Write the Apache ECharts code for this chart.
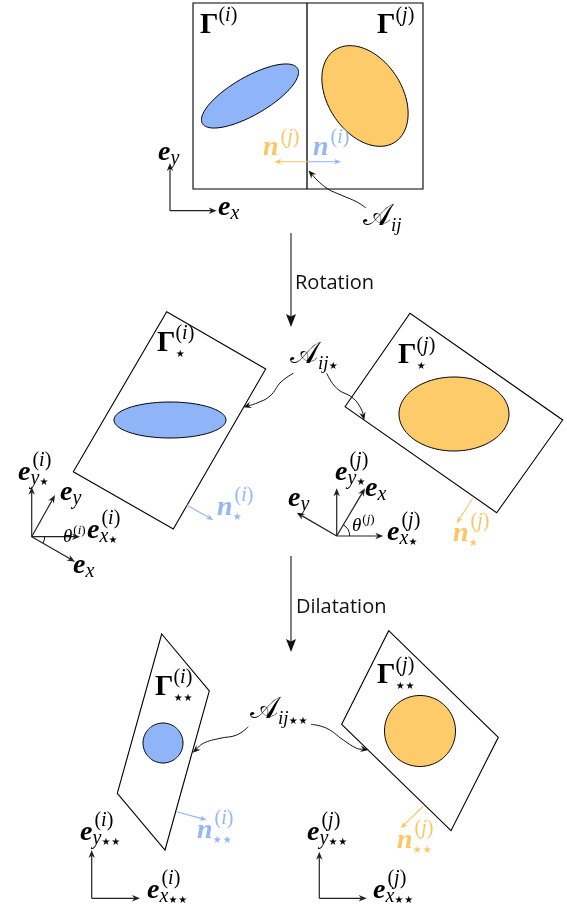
<!DOCTYPE html>
<html><head><meta charset="utf-8">
<script src="https://cdn.jsdelivr.net/npm/echarts@6/dist/echarts.min.js"></script>
<style>html,body{margin:0;padding:0;background:#fff}#c{width:567px;height:911px}</style>
</head><body><div id="c"></div>
<script>
// ---------- diagram data (coordinates in the 567 x 911 frame, y downward) ----------
const boxTop  = [[193,3],[423,3],[423,189],[193,189]];
const boxRotI = [[166.7,311.7],[265.7,369],[173.3,529],[73.3,471.7]];
const boxRotJ = [[345,406.7],[410,313.3],[562.7,420],[496.7,512.7]];
const boxDilI = [[161.7,634],[209.3,691],[165,850],[117.3,793.3]];
const boxDilJ = [[341.7,724.3],[388.7,630.7],[498.3,737.3],[451,830.7]];
const interfaceLine = [307,3,307,189];

// inclusions: [cx, cy, rx, ry, tilt deg (anticlockwise), phase 0 = i (blue), 1 = j (orange)]
const inclusions = [
  [250,96,55,19,30,0],[365,96,55,37,-57,1],
  [170,420,56,18,0,0],[454,414,55,37,0,1],
  [163,743,20,20,0,0],[420,731,35.5,35.5,0,1]
];
// basis vectors: [x0, y0, x1, y1]
const basisArrows = [
  [170,210.7,170,163],[170,210.7,216.7,210.7],
  [31.7,536.7,31.7,486.7],[31.7,536.7,55,495],[31.7,536.7,80,536.7],[31.7,536.7,75,561.7],
  [336.7,536,336.7,488.3],[336.7,536,365,488.3],[336.7,536,383.3,536],[336.7,536,296.7,512.7],
  [91.7,898.3,91.7,850],[91.7,898.3,140,898.3],
  [319.3,898.3,319.3,851.7],[319.3,898.3,366.7,898.3]
];
// interface normals: [x0, y0, x1, y1, phase]
const normalArrows = [
  [307,161.7,274.3,161.7,1],[307,161.7,341,161.7,0],
  [186.7,505,213.3,520,0],[472.7,498.3,456.7,523.3,1],
  [176.7,811.7,206.7,820,0],[423.3,806,400.7,828.3,1]
];
// step arrows: [x, yStart, yEnd]
const stepArrows = [[291,233,327],[291,556,652]];
const stepNames = ['Rotation','Dilatation'];
const stepNamePos = [[295,290],[296,614]];
// pointer curves from the interface labels
const curveTop   = [[366,208],[357,202],[341,195],[328,189],[317,180],[308.5,170.5]];
const curveRotL  = [[293.3,373.3],[281,382],[270,396],[257,403],[243.3,407.3]];
const curveRotR  = [[326.7,373.3],[336.7,388.3],[353.3,398.3],[361.7,410],[364.3,420]];
const curveDilL  = [[248.3,726.7],[236.7,735],[220,738.3],[203.3,743.3],[192.7,752.7]];
const curveDilR  = [[311,724.3],[326.7,728.3],[343.3,740],[356.7,748.3],[368.3,750]];
// angle arcs: [cx, cy, r, fromDeg, toDeg] (anticlockwise degrees)
const angleArcs = [[31.7,536.7,13,-30,0],[336.7,536,13,0,59]];
// labels: [x, baseline, kind, main, sub, sup, ink]
const labels = [
  [200,35,'set','Γ','','(i)',2],
  [377,35,'set','Γ','','(j)',2],
  [158,162,'vec','e','y','',2],
  [218,217,'vec','e','x','',2],
  [263,157,'vec','n','','(j)',1],
  [313,157,'vec','n','','(i)',0],
  [363,227,'iface','A','ij','',2],
  [157,353,'set','Γ','⋆','(i)',2],
  [398,365,'set','Γ','⋆','(j)',2],
  [290,365,'iface','A','ij⋆','',2],
  [18,482,'vec','e','y⋆','(i)',2],
  [60,502,'vec','e','y','',2],
  [87,540,'vec','e','x⋆','(i)',2],
  [73,575,'vec','e','x','',2],
  [63,543,'ang','θ','','(i)',2],
  [217,517,'vec','n','⋆','(i)',0],
  [335,482,'vec','e','y⋆','(j)',2],
  [365,498,'vec','e','x','',2],
  [288,508,'vec','e','y','',2],
  [352,532,'ang','θ','','(j)',2],
  [387,542,'vec','e','x⋆','(j)',2],
  [453,543,'vec','n','⋆','(j)',1],
  [155,697,'set','Γ','⋆⋆','(i)',2],
  [197,840,'vec','n','⋆⋆','(i)',0],
  [80,842,'vec','e','y⋆⋆','(i)',2],
  [147,900,'vec','e','x⋆⋆','(i)',2],
  [250,720,'iface','A','ij⋆⋆','',2],
  [377,685,'set','Γ','⋆⋆','(j)',2],
  [397,850,'vec','n','⋆⋆','(j)',1],
  [307,842,'vec','e','y⋆⋆','(j)',2],
  [373,900,'vec','e','x⋆⋆','(j)',2]
];

// ---------- styles ----------
const FILL = ['#8fb4f8','#fdcb69'];
const INK = ['#94b7f5','#fcc662','#000'];
const SERIF = '"Liberation Serif", "DejaVu Serif", serif';
const KIND = {
  vec:   {font:'italic bold 28px ' + SERIF, size:28, ss:20, supUp:12, supUpSub:14, subDown:4, supShift:2},
  set:   {font:'bold 29px ' + SERIF, size:29, ss:20, supUp:12, supUpSub:12, subDown:5, supShift:0},
  iface: {font:'30px "DejaVu Serif", "DejaVu Sans", serif', size:30, ss:19, supUp:12, supUpSub:12, subDown:5, supShift:0, glyph:'𝒜'},
  ang:   {font:'italic 19px ' + SERIF, size:19, ss:13, supUp:8, supUpSub:8, subDown:3, supShift:1}
};

const mctx = document.createElement('canvas').getContext('2d');
function tw(font, s){ mctx.font = font; return mctx.measureText(s).width; }
function txt(s, x, base, font, size, col){
  return {type:'text', x:x, y:base - 0.34*size,
    style:{text:s, font:font, fill:col, align:'left', verticalAlign:'middle'}};
}
function scriptRun(s, x, base, size, col, out){
  for (const ch of Array.from(s)) {
    if (ch === '⋆') {
      const fs = Math.round(size * 0.5);
      const font = fs + 'px "DejaVu Sans", sans-serif';
      out.push(txt('★', x + 0.3, base - 0.5, font, fs, col));
      x += tw(font, '★') + 0.8;
      continue;
    }
    const it = /[a-z]/.test(ch);
    const font = (it ? 'italic ' : '') + size + 'px ' + SERIF;
    out.push(txt(ch, x, base, font, size, col));
    x += tw(font, ch);
  }
}
function head(tip, from, len, hw, back){
  const dx = tip[0]-from[0], dy = tip[1]-from[1], L = Math.hypot(dx,dy) || 1;
  const ux = dx/L, uy = dy/L, nx = -uy, ny = ux;
  const bx = tip[0]-ux*len, by = tip[1]-uy*len;
  return [tip, [bx+nx*hw, by+ny*hw], [tip[0]-ux*len*back, tip[1]-uy*len*back], [bx-nx*hw, by-ny*hw]];
}
function arrowGroup(p0, p1, color, width, len, hw, back, headColor){
  const dx = p1[0]-p0[0], dy = p1[1]-p0[1], L = Math.hypot(dx,dy) || 1;
  const end = [p1[0]-dx/L*len*0.6, p1[1]-dy/L*len*0.6];
  return {type:'group', children:[
    {type:'line', shape:{x1:p0[0], y1:p0[1], x2:end[0], y2:end[1]}, style:{stroke:color, lineWidth:width, fill:null}},
    {type:'polygon', shape:{points:head(p1, p0, len, hw, back)}, style:{fill:headColor || color, stroke:null}}
  ]};
}

const base = {type:'custom', coordinateSystem:'cartesian2d', clip:false, silent:true, animation:false};
const series = [];

// boxes
const boxes = [boxTop, boxRotI, boxRotJ, boxDilI, boxDilJ];
series.push(Object.assign({}, base, {z:1, data: boxes.map(b => b.flat()),
  renderItem: (p, api) => {
    const pts = [];
    for (let k = 0; k < 4; k++) pts.push(api.coord([api.value(2*k), api.value(2*k+1)]));
    return {type:'polygon', shape:{points:pts}, style:{fill:'none', stroke:'#000', lineWidth:1.1}};
  }}));
// interface in the reference configuration
series.push(Object.assign({}, base, {z:2, data:[interfaceLine],
  renderItem: (p, api) => {
    const a = api.coord([api.value(0), api.value(1)]), b = api.coord([api.value(2), api.value(3)]);
    return {type:'line', shape:{x1:a[0], y1:a[1], x2:b[0], y2:b[1]}, style:{stroke:'#000', lineWidth:1.3}};
  }}));
// inclusions
series.push(Object.assign({}, base, {z:3, data: inclusions,
  renderItem: (p, api) => {
    const c = api.coord([api.value(0), api.value(1)]);
    const s = api.size([api.value(2), api.value(3)]);
    const phi = api.value(4) * Math.PI / 180, cp = Math.cos(phi), sp = Math.sin(phi);
    const pts = [];
    for (let k = 0; k < 120; k++) {
      const t = k / 120 * 2 * Math.PI, dx = s[0]*Math.cos(t), dy = s[1]*Math.sin(t);
      pts.push([c[0] + dx*cp + dy*sp, c[1] - dx*sp + dy*cp]);
    }
    return {type:'polygon', shape:{points:pts}, style:{fill:FILL[api.value(5)], stroke:'#000', lineWidth:1}};
  }}));
// basis vectors
series.push(Object.assign({}, base, {z:4, data: basisArrows,
  renderItem: (p, api) => arrowGroup(api.coord([api.value(0), api.value(1)]), api.coord([api.value(2), api.value(3)]), '#222', 1.2, 8, 3.2, 0.7)}));
// normals
series.push(Object.assign({}, base, {z:4, data: normalArrows,
  renderItem: (p, api) => arrowGroup(api.coord([api.value(0), api.value(1)]), api.coord([api.value(2), api.value(3)]), INK[api.value(4)], 1.1, 7, 2.8, 0.7)}));
// step arrows
series.push(Object.assign({}, base, {z:4, data: stepArrows,
  renderItem: (p, api) => arrowGroup(api.coord([api.value(0), api.value(1)]), api.coord([api.value(0), api.value(2)]), '#808080', 2, 13, 5, 0.8, '#111')}));
// step names
series.push(Object.assign({}, base, {z:5, data: stepNamePos,
  renderItem: (p, api) => {
    const a = api.coord([api.value(0), api.value(1)]);
    return txt(stepNames[p.dataIndex], a[0], a[1], '20px "Open Sans", "DejaVu Sans", sans-serif', 20, '#111');
  }}));
// pointer curves
const curves = [curveTop, curveRotL, curveRotR, curveDilL, curveDilR];
series.push(Object.assign({}, base, {z:4, data: curves.map(c => c.flat()),
  renderItem: (p, api) => {
    const n = curves[p.dataIndex].length, pts = [];
    for (let k = 0; k < n; k++) pts.push(api.coord([api.value(2*k), api.value(2*k+1)]));
    const tip = pts[n-1], prev = pts[n-2];
    const dx = tip[0]-prev[0], dy = tip[1]-prev[1], L = Math.hypot(dx,dy);
    const line = pts.slice(0, n-1).concat([[tip[0]-dx/L*5, tip[1]-dy/L*5]]);
    return {type:'group', children:[
      {type:'polyline', shape:{points:line, smooth:0.45}, style:{stroke:'#111', lineWidth:1, fill:'none'}},
      {type:'polygon', shape:{points:head(tip, prev, 8, 3.3, 0.65)}, style:{fill:'#111'}}
    ]};
  }}));
// angle arcs
series.push(Object.assign({}, base, {z:4, data: angleArcs,
  renderItem: (p, api) => {
    const c = api.coord([api.value(0), api.value(1)]);
    const r = api.size([api.value(2), 0])[0];
    const a0 = -api.value(4) * Math.PI/180, a1 = -api.value(3) * Math.PI/180;
    return {type:'arc', shape:{cx:c[0], cy:c[1], r:r, startAngle:a0, endAngle:a1, clockwise:true}, style:{stroke:'#111', lineWidth:1, fill:'none'}};
  }}));
// labels
series.push(Object.assign({}, base, {z:6, data: labels.map(l => [l[0], l[1]]),
  renderItem: (p, api) => {
    const L = labels[p.dataIndex], k = KIND[L[2]], col = INK[L[6]];
    const a = api.coord([api.value(0), api.value(1)]);
    const mainText = k.glyph || L[3];
    const out = [txt(mainText, a[0], a[1], k.font, k.size, col)];
    const sx = a[0] + tw(k.font, mainText);
    if (L[5]) scriptRun(L[5], sx + k.supShift, a[1] - (L[4] ? k.supUpSub : k.supUp), k.ss, col, out);
    if (L[4]) scriptRun(L[4], sx, a[1] + k.subDown, k.ss, col, out);
    return {type:'group', children: out};
  }}));

const chart = echarts.init(document.getElementById('c'), null, {renderer:'canvas'});
chart.setOption({
  animation:false,
  grid:{left:0, right:0, top:0, bottom:0},
  xAxis:{type:'value', min:0, max:567, show:false},
  yAxis:{type:'value', min:0, max:911, inverse:true, show:false},
  series: series
});
</script></body></html>
